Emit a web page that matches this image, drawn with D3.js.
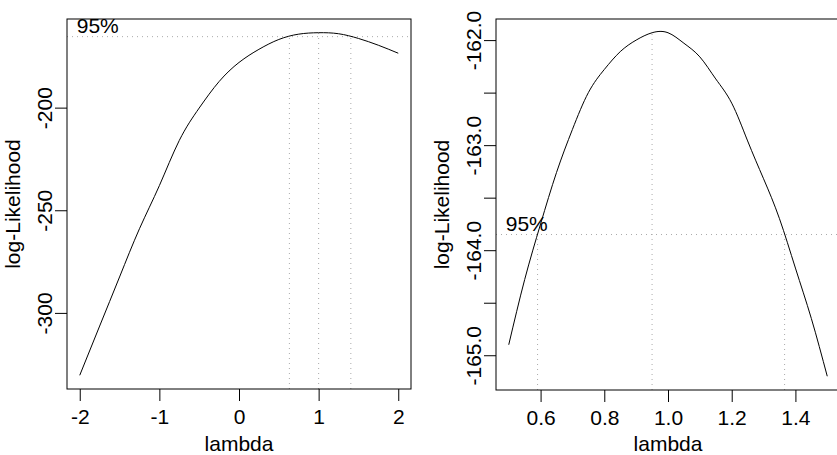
<!DOCTYPE html>
<html lang="en">
<head>
<meta charset="utf-8">
<title>Box-Cox profile likelihood</title>
<script type="text/javascript" src="https://cdnjs.cloudflare.com/ajax/libs/d3/7.8.5/d3.min.js"></script>
<style>
body { margin: 0; background: #fff; }
svg text { font-family: "Liberation Sans", Arial, sans-serif; font-size: 21px; fill: #000; }
.box { fill: none; stroke: #000; stroke-width: 1; }
.curve { fill: none; stroke: #000; stroke-width: 1; }
.ref { fill: none; stroke: #aaa; stroke-width: 1; stroke-dasharray: 1,4; }
.axis path { display: none; }
.axis line { stroke: #000; }
</style>
</head>
<body>
<div id="chart"></div>
<script type="text/javascript">

// left panel: full lambda grid
var lambdaFull = [-2, -1.75, -1.5, -1.25, -1, -0.75, -0.5, -0.25, 0, 0.25, 0.5, 0.75, 1, 1.25, 1.5, 1.75, 2];
var loglikFull = [-330.4, -306.4, -282.5, -259.0, -238.0, -216.0, -200.2, -187.3, -178.0, -171.6, -166.8, -164.2, -163.5, -164.0, -166.3, -169.6, -173.5];
var fullTicksX = [-2, -1, 0, 1, 2];
var fullTicksY = [-300, -250, -200];

// right panel: zoom on the peak
var lambdaZoom = [0.5, 0.55, 0.6, 0.65, 0.7, 0.75, 0.8, 0.85, 0.9, 0.95, 1.0, 1.05, 1.1, 1.15, 1.2, 1.25, 1.3, 1.35, 1.4, 1.45, 1.5];
var loglikZoom = [-164.90, -164.28, -163.75, -163.26, -162.85, -162.50, -162.28, -162.11, -162.00, -161.93, -161.93, -162.03, -162.16, -162.37, -162.60, -162.96, -163.32, -163.70, -164.17, -164.65, -165.20];
var zoomTicksX = [0.6, 0.8, 1.0, 1.2, 1.4];
var zoomTicksY = [-165, -164.5, -164, -163.5, -163, -162.5, -162];

var xLabel = "lambda",
    yLabel = "log-Likelihood",
    ciLabel = "95%";

var width = 837, height = 455;

var svg = d3.select("#chart").append("svg")
    .attr("width", width)
    .attr("height", height);

function pad(ext) {
    var d = (ext[1] - ext[0]) * 0.04;
    return [ext[0] - d, ext[1] + d];
}

function panel(xs, ys, box, ticksX, ticksY, fmtX, fmtY) {
    var g = svg.append("g");

    var x = d3.scaleLinear().domain(pad(d3.extent(xs))).range([box.left, box.right]);
    var y = d3.scaleLinear().domain(pad(d3.extent(ys))).range([box.bottom, box.top]);

    // 95% cut-off, as MASS::boxcox computes it
    var mx = d3.maxIndex(ys);
    var Lmax = ys[mx];
    var lim = Lmax - 3.841459 / 2;

    g.append("line").attr("class", "ref")
        .attr("x1", box.left).attr("x2", box.right)
        .attr("y1", y(lim)).attr("y2", y(lim));

    g.append("line").attr("class", "ref")
        .attr("x1", x(xs[mx])).attr("x2", x(xs[mx]))
        .attr("y1", box.bottom).attr("y2", y(Lmax));

    function crossing(i0, i1) {
        return xs[i0] + (lim - ys[i0]) * (xs[i1] - xs[i0]) / (ys[i1] - ys[i0]);
    }
    var above = d3.range(ys.length).filter(function(i) { return ys[i] > lim; });
    var cuts = [];
    if (ys[0] < lim) cuts.push(crossing(above[0] - 1, above[0]));
    if (ys[ys.length - 1] < lim) cuts.push(crossing(above[above.length - 1] + 1, above[above.length - 1]));
    cuts.forEach(function(c) {
        g.append("line").attr("class", "ref")
            .attr("x1", x(c)).attr("x2", x(c))
            .attr("y1", box.bottom).attr("y2", y(lim));
    });

    g.append("text")
        .attr("x", x(xs[0]) - 3)
        .attr("y", y(lim) - 4)
        .text(ciLabel);

    var line = d3.line()
        .x(function(d, i) { return x(xs[i]); })
        .y(function(d) { return y(d); })
        .curve(d3.curveNatural);

    g.append("path").attr("class", "curve")
        .attr("d", line(ys));

    g.append("rect").attr("class", "box")
        .attr("x", box.left).attr("y", box.top)
        .attr("width", box.right - box.left)
        .attr("height", box.bottom - box.top);

    g.append("g")
        .attr("class", "axis")
        .attr("transform", "translate(0," + box.bottom + ")")
        .call(d3.axisBottom(x).tickValues(ticksX).tickSize(12).tickPadding(8).tickFormat(fmtX));

    var ya = g.append("g")
        .attr("class", "axis")
        .attr("transform", "translate(" + box.left + ",0)")
        .call(d3.axisLeft(y).tickValues(ticksY).tickSize(12).tickFormat(fmtY));
    ya.selectAll("text")
        .attr("x", 0).attr("y", -15).attr("dy", 0)
        .attr("transform", "rotate(-90)")
        .style("text-anchor", "middle");

    g.append("text")
        .attr("x", (box.left + box.right) / 2)
        .attr("y", 451)
        .style("text-anchor", "middle")
        .text(xLabel);

    g.append("text")
        .attr("transform", "translate(" + (box.left - 47) + "," + ((box.top + box.bottom) / 2) + ") rotate(-90)")
        .style("text-anchor", "middle")
        .text(yLabel);

    g.selectAll(".axis").attr("font-size", null).attr("font-family", null);
}

panel(lambdaFull, loglikFull, {left: 67, right: 411, top: 19, bottom: 389},
    fullTicksX, fullTicksY,
    function(d) { return String(d); },
    function(d) { return String(d); });

panel(lambdaZoom, loglikZoom, {left: 496, right: 840, top: 19, bottom: 390},
    zoomTicksX, zoomTicksY,
    function(d) { return d.toFixed(1); },
    function(d) { return Number.isInteger(d) ? d.toFixed(1) : ""; });

</script>
</body>
</html>
